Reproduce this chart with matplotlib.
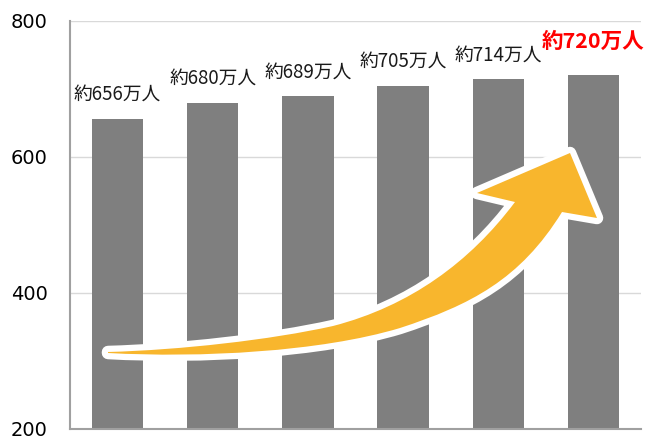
import matplotlib
matplotlib.use("Agg")
import matplotlib.pyplot as plt
from matplotlib.path import Path
from matplotlib.patches import PathPatch
import matplotlib.patheffects as pe

plt.rcParams['font.family'] = ['Noto Sans CJK JP', 'DejaVu Sans']

# data
categories = ["1", "2", "3", "4", "5", "6"]
values = [656, 680, 689, 705, 714, 720]
labels = ["約656万人", "約680万人", "約689万人", "約705万人", "約714万人", "約720万人"]
yticks = [200, 400, 600, 800]

W, H = 649, 437
fig = plt.figure(figsize=(W / 100, H / 100), dpi=100)
ax = fig.add_axes([70 / W, 8 / H, 571 / W, 408 / H])

x = list(range(len(categories)))
ax.bar(x, values, width=0.54, color="#7f7f7f", zorder=2)
ax.set_xlim(-0.5, len(categories) - 0.5)
ax.set_ylim(200, 800)
ax.set_yticks(yticks)
ax.set_yticklabels([str(t) for t in yticks], family="DejaVu Sans", fontsize=14)
ax.set_xticks([])
ax.tick_params(axis="y", length=0, pad=16)
ax.grid(axis="y", color="#d9d9d9", lw=1, zorder=0)
for s in ["top", "right"]:
    ax.spines[s].set_visible(False)
for s in ["left", "bottom"]:
    ax.spines[s].set_color("#a0a0a0")
    ax.spines[s].set_linewidth(1.5)

for i, (v, lab) in enumerate(zip(values, labels)):
    if i == len(values) - 1:
        ax.annotate(lab, (i, v), xytext=(0, 17), textcoords="offset points",
                    ha="center", va="bottom", fontsize=15.5, fontweight="bold",
                    color="#ff0000", zorder=5)
    else:
        ax.annotate(lab, (i, v), xytext=(0, 10), textcoords="offset points",
                    ha="center", va="bottom", fontsize=13.5, color="#1a1a1a",
                    zorder=5)


# decorative rising arrow, drawn in image pixel positions -> axes fraction
def p(px, py):
    return ((px - 70) / 571, (429 - py) / 408)


verts = [p(108, 352),
         p(180, 350), p(270, 340), p(333, 326),
         p(410, 306), p(470, 262), p(515, 202),
         p(477, 193), p(570, 153), p(597, 218), p(562, 212),
         p(520, 280), p(470, 305), p(400, 328),
         p(320, 352), p(200, 358), p(108, 353),
         p(108, 352)]
codes = [Path.MOVETO,
         Path.CURVE4, Path.CURVE4, Path.CURVE4,
         Path.CURVE4, Path.CURVE4, Path.CURVE4,
         Path.LINETO, Path.LINETO, Path.LINETO, Path.LINETO,
         Path.CURVE4, Path.CURVE4, Path.CURVE4,
         Path.CURVE4, Path.CURVE4, Path.CURVE4,
         Path.CLOSEPOLY]
arrow = PathPatch(Path(verts, codes), transform=ax.transAxes, facecolor="#f8b62d",
                  edgecolor="none", zorder=4, clip_on=False)
arrow.set_path_effects([pe.Stroke(linewidth=9, foreground="white", joinstyle="round"),
                        pe.Normal()])
ax.add_patch(arrow)

fig.savefig("out.png", dpi=100)
